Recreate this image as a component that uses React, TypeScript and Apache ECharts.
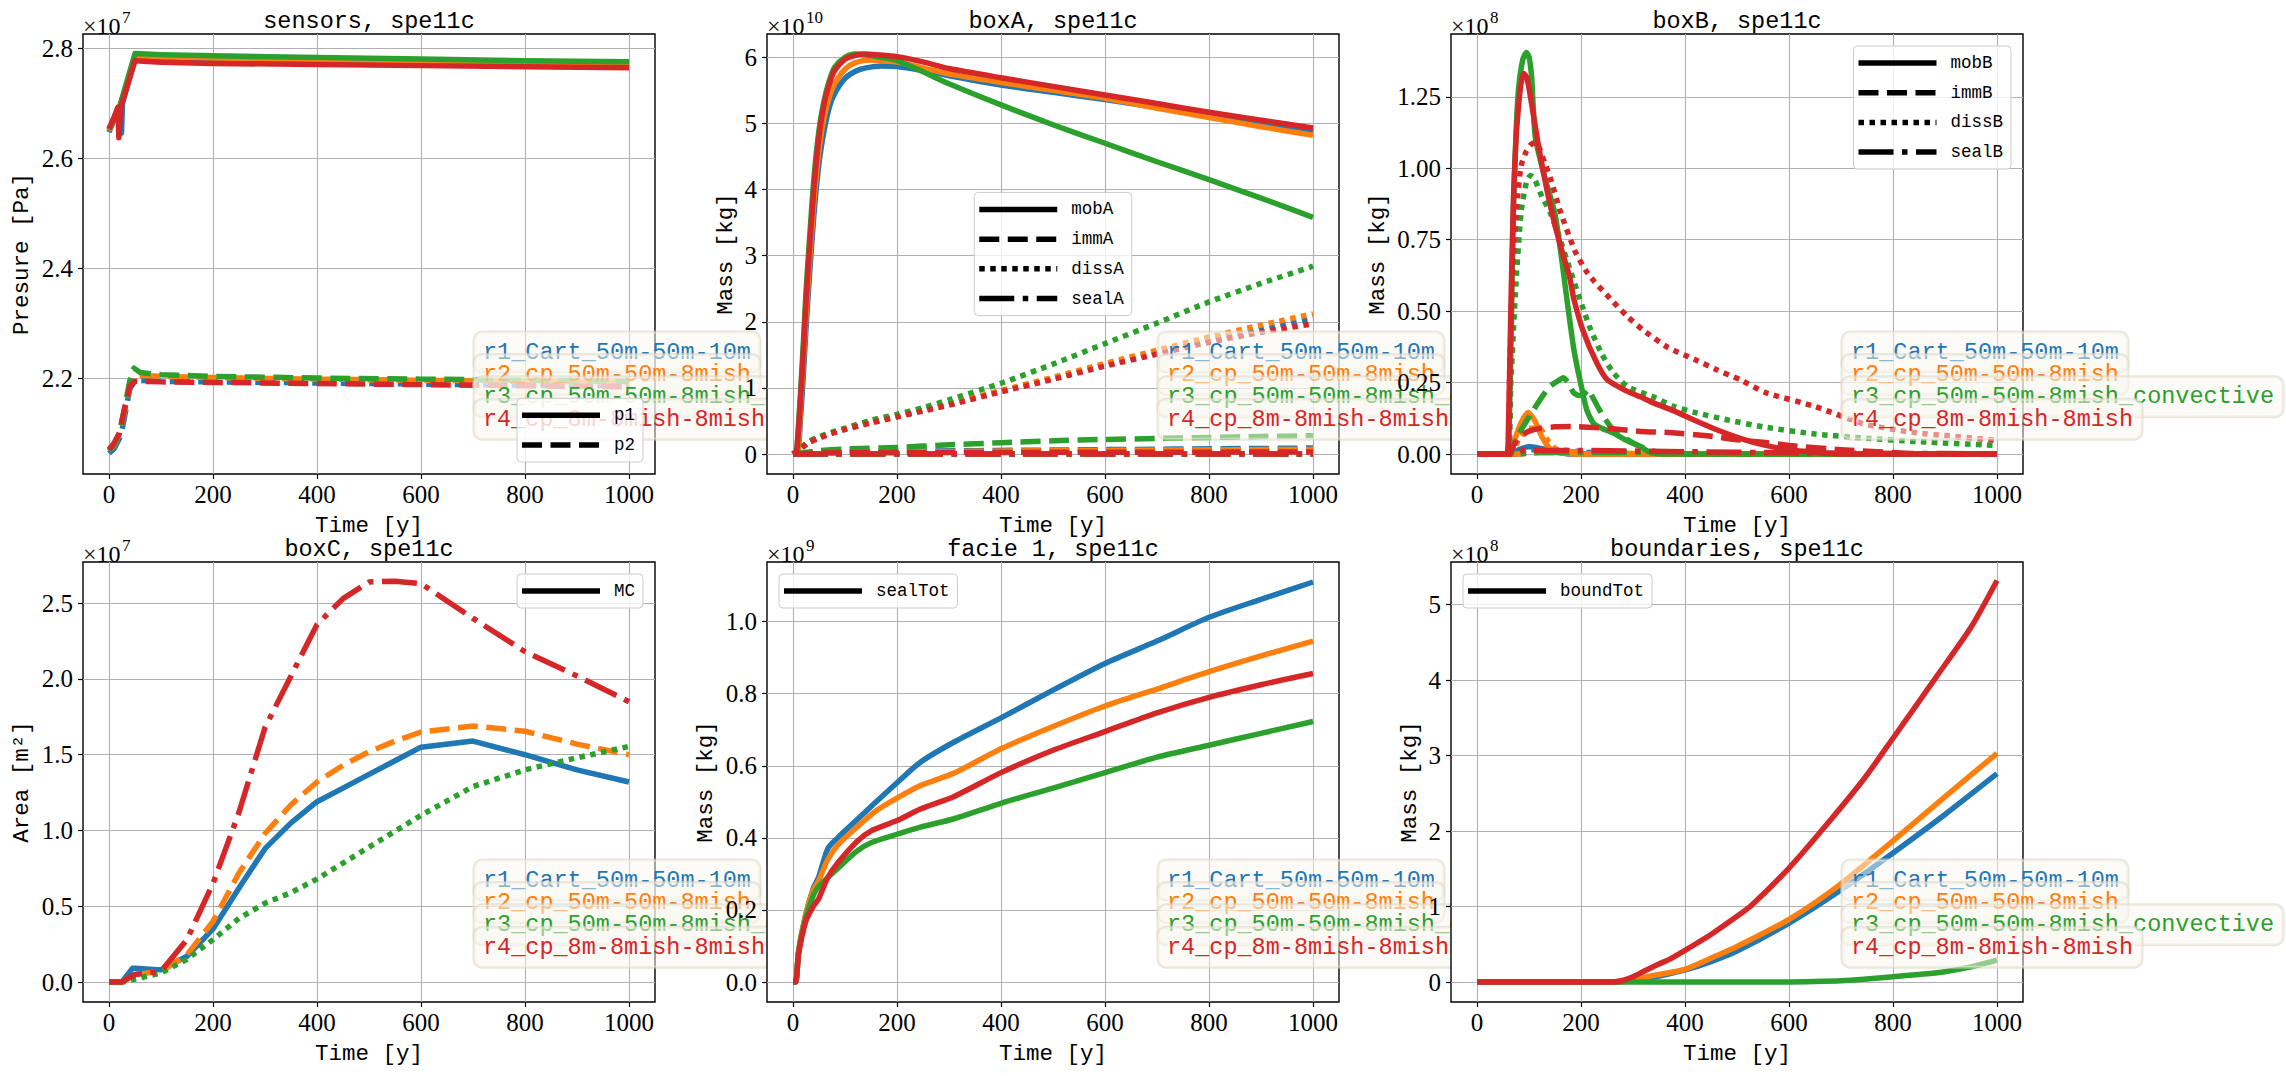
import React, { useEffect, useRef } from "react";
import * as echarts from "echarts";

type Pt = [number, number];
type Sty = "solid" | "dashed" | "dotted" | "dashdot";

// ---------- runs ----------
const RUN_NAMES = [
  "r1_Cart_50m-50m-10m",
  "r2_cp_50m-50m-8mish",
  "r3_cp_50m-50m-8mish_convective",
  "r4_cp_8m-8mish-8mish",
];
const RUN_COLORS = ["#1f77b4", "#ff7f0e", "#2ca02c", "#d62728"];
const X_TICKS = [0, 200, 400, 600, 800, 1000];

// ---------- sensors, spe11c (x1e7 Pa) ----------
const SENSORS_TICKS = [2.2, 2.4, 2.6, 2.8];
const p1_r1: Pt[] = [[0, 2.647], [10, 2.670], [22, 2.696], [24, 2.645], [26, 2.700], [50, 2.781], [100, 2.779], [200, 2.777], [400, 2.774], [600, 2.772], [800, 2.770], [1000, 2.768]];
const p1_r2: Pt[] = [[0, 2.650], [10, 2.671], [20, 2.690], [50, 2.786], [100, 2.784], [200, 2.782], [400, 2.779], [600, 2.777], [800, 2.774], [1000, 2.772]];
const p1_r3: Pt[] = [[0, 2.652], [10, 2.672], [20, 2.692], [50, 2.790], [100, 2.788], [200, 2.786], [400, 2.783], [600, 2.780], [800, 2.777], [1000, 2.775]];
const p1_r4: Pt[] = [[0, 2.653], [10, 2.675], [17, 2.692], [19, 2.637], [22, 2.690], [50, 2.777], [100, 2.774], [200, 2.772], [400, 2.770], [600, 2.768], [800, 2.766], [1000, 2.764]];
const p2_r1: Pt[] = [[0, 2.063], [10, 2.072], [20, 2.090], [25, 2.105], [30, 2.130], [40, 2.180], [50, 2.196], [100, 2.194], [200, 2.193], [400, 2.191], [600, 2.189], [800, 2.187], [1000, 2.186]];
const p2_r2: Pt[] = [[0, 2.068], [10, 2.078], [20, 2.098], [30, 2.140], [40, 2.185], [50, 2.205], [100, 2.203], [200, 2.201], [400, 2.198], [600, 2.196], [800, 2.194], [1000, 2.192]];
const p2_r3: Pt[] = [[0, 2.068], [10, 2.080], [20, 2.100], [30, 2.145], [40, 2.195], [48, 2.218], [60, 2.210], [100, 2.206], [200, 2.203], [400, 2.200], [600, 2.198], [800, 2.196], [1000, 2.194]];
const p2_r4: Pt[] = [[0, 2.070], [10, 2.082], [20, 2.100], [30, 2.145], [40, 2.185], [50, 2.194], [100, 2.193], [200, 2.192], [400, 2.190], [600, 2.188], [800, 2.186], [1000, 2.184]];

// ---------- boxA, spe11c (x1e10 kg) ----------
const BOXA_TICKS = [0, 1, 2, 3, 4, 5, 6];
const mobA_r1: Pt[] = [[0, 0], [5, 0], [10, 0.05], [15, 0.6], [20, 1.2], [25, 1.9], [30, 2.5], [40, 3.6], [50, 4.4], [60, 4.9], [70, 5.25], [80, 5.45], [100, 5.68], [120, 5.79], [140, 5.84], [170, 5.87], [200, 5.86], [250, 5.80], [300, 5.72], [400, 5.58], [500, 5.47], [600, 5.36], [700, 5.24], [800, 5.11], [900, 4.99], [1000, 4.88]];
const mobA_r2: Pt[] = [[0, 0], [5, 0], [10, 0.08], [15, 0.8], [20, 1.4], [25, 2.1], [30, 2.7], [40, 3.8], [50, 4.6], [60, 5.1], [70, 5.4], [80, 5.6], [100, 5.82], [120, 5.92], [150, 5.96], [200, 5.93], [250, 5.84], [300, 5.75], [400, 5.62], [500, 5.50], [600, 5.38], [700, 5.23], [800, 5.09], [900, 4.95], [1000, 4.82]];
const mobA_r3: Pt[] = [[0, 0], [5, 0], [8, 0.15], [15, 1.0], [20, 1.7], [25, 2.45], [30, 3.05], [40, 4.15], [50, 4.9], [60, 5.35], [70, 5.65], [80, 5.85], [100, 6.0], [120, 6.05], [140, 6.04], [160, 6.01], [200, 5.95], [250, 5.78], [300, 5.60], [400, 5.28], [500, 4.98], [600, 4.70], [700, 4.42], [800, 4.15], [900, 3.87], [1000, 3.58]];
const mobA_r4: Pt[] = [[0, 0], [5, 0], [8, 0.1], [15, 0.9], [20, 1.55], [25, 2.3], [30, 2.9], [40, 4.0], [50, 4.8], [60, 5.3], [70, 5.6], [80, 5.8], [100, 5.97], [120, 6.03], [140, 6.05], [160, 6.04], [200, 6.01], [250, 5.93], [300, 5.83], [400, 5.69], [500, 5.56], [600, 5.43], [700, 5.30], [800, 5.17], [900, 5.05], [1000, 4.93]];
const immA_r1: Pt[] = [[0, 0], [50, 0.02], [200, 0.04], [500, 0.06], [1000, 0.09]];
const immA_r2: Pt[] = [[0, 0], [50, 0.02], [200, 0.03], [500, 0.05], [1000, 0.07]];
const immA_r3: Pt[] = [[0, 0], [20, 0.02], [50, 0.05], [100, 0.075], [200, 0.10], [300, 0.14], [400, 0.17], [500, 0.20], [600, 0.22], [700, 0.235], [800, 0.25], [900, 0.265], [1000, 0.276]];
const immA_r4: Pt[] = [[0, 0], [50, 0.015], [200, 0.02], [500, 0.025], [1000, 0.03]];
const dissA_r1: Pt[] = [[0, 0], [10, 0.06], [20, 0.12], [30, 0.18], [50, 0.25], [75, 0.32], [100, 0.38], [150, 0.48], [200, 0.57], [250, 0.66], [300, 0.75], [400, 0.95], [500, 1.14], [600, 1.35], [700, 1.54], [800, 1.73], [900, 1.89], [1000, 2.05]];
const dissA_r2: Pt[] = [[0, 0], [10, 0.06], [20, 0.12], [30, 0.18], [50, 0.25], [75, 0.32], [100, 0.38], [150, 0.48], [200, 0.57], [250, 0.66], [300, 0.76], [400, 0.96], [500, 1.16], [600, 1.37], [700, 1.57], [800, 1.77], [900, 1.95], [1000, 2.12]];
const dissA_r3: Pt[] = [[0, 0], [10, 0.06], [20, 0.13], [30, 0.19], [50, 0.26], [75, 0.33], [100, 0.39], [150, 0.51], [200, 0.60], [250, 0.70], [300, 0.82], [400, 1.07], [500, 1.36], [600, 1.67], [700, 1.98], [800, 2.30], [900, 2.58], [1000, 2.84]];
const dissA_r4: Pt[] = [[0, 0], [10, 0.05], [20, 0.11], [30, 0.17], [50, 0.24], [75, 0.31], [100, 0.37], [150, 0.47], [200, 0.56], [250, 0.65], [300, 0.74], [400, 0.94], [500, 1.13], [600, 1.33], [700, 1.51], [800, 1.69], [900, 1.84], [1000, 1.97]];
const sealA_r1: Pt[] = [[0, 0], [500, 0], [1000, 0]];
const sealA_r2: Pt[] = [[0, 0], [500, 0], [1000, 0]];
const sealA_r3: Pt[] = [[0, 0], [500, 0], [1000, 0]];
const sealA_r4: Pt[] = [[0, 0], [500, 0], [1000, 0]];

// ---------- boxB, spe11c (x1e8 kg) ----------
const BOXB_TICKS = [0, 0.25, 0.5, 0.75, 1.0, 1.25];
const mobB_r1: Pt[] = [[0, 0], [65, 0], [80, 0.015], [100, 0.025], [120, 0.02], [150, 0.008], [180, 0], [1000, 0]];
const immB_r1: Pt[] = [[0, 0], [80, 0], [120, 0.005], [200, 0.005], [300, 0], [1000, 0]];
const dissB_r1: Pt[] = [[0, 0], [70, 0], [100, 0.015], [150, 0.015], [220, 0.005], [300, 0], [1000, 0]];
const sealB_r1: Pt[] = [[0, 0], [80, 0], [100, 0.008], [200, 0.008], [330, 0.004], [400, 0], [1000, 0]];
const mobB_r2: Pt[] = [[0, 0], [60, 0], [70, 0.04], [85, 0.11], [98, 0.145], [110, 0.12], [125, 0.06], [140, 0.02], [160, 0.005], [200, 0], [1000, 0]];
const immB_r2: Pt[] = [[0, 0], [80, 0], [130, 0.01], [250, 0.005], [350, 0], [1000, 0]];
const dissB_r2: Pt[] = [[0, 0], [65, 0], [80, 0.05], [100, 0.09], [120, 0.09], [135, 0.05], [150, 0.02], [170, 0.005], [200, 0], [1000, 0]];
const sealB_r2: Pt[] = [[0, 0], [75, 0], [90, 0.008], [200, 0.008], [330, 0.006], [360, 0], [1000, 0]];
const mobB_r3: Pt[] = [[0, 0], [58, 0], [62, 0.1], [66, 0.45], [70, 0.85], [75, 1.12], [80, 1.28], [88, 1.38], [95, 1.405], [100, 1.39], [105, 1.32], [112, 1.11], [130, 0.97], [150, 0.84], [163, 0.68], [173, 0.54], [185, 0.38], [192, 0.31], [205, 0.2], [211, 0.155], [224, 0.108], [240, 0.09], [262, 0.073], [290, 0.045], [314, 0.026], [330, 0.008], [350, 0], [1000, 0]];
const immB_r3: Pt[] = [[0, 0], [65, 0], [70, 0.03], [77, 0.061], [90, 0.1], [109, 0.155], [125, 0.2], [141, 0.238], [155, 0.255], [166, 0.267], [175, 0.25], [186, 0.214], [196, 0.205], [205, 0.208], [214, 0.226], [222, 0.2], [240, 0.14], [262, 0.085], [290, 0.05], [314, 0.026], [340, 0.01], [370, 0.002], [400, 0], [1000, 0]];
const dissB_r3: Pt[] = [[0, 0], [58, 0], [65, 0.25], [75, 0.6], [85, 0.85], [95, 0.95], [103, 0.975], [110, 0.965], [125, 0.9], [141, 0.845], [160, 0.75], [178, 0.65], [200, 0.53], [218, 0.438], [240, 0.35], [262, 0.285], [290, 0.235], [339, 0.2], [378, 0.167], [420, 0.145], [480, 0.12], [550, 0.095], [650, 0.07], [750, 0.055], [850, 0.043], [1000, 0.03]];
const sealB_r3: Pt[] = [[0, 0], [80, 0], [100, 0.005], [300, 0.005], [500, 0.002], [700, 0], [1000, 0]];
const mobB_r4: Pt[] = [[0, 0], [57, 0], [60, 0.05], [65, 0.5], [70, 0.89], [75, 1.1], [80, 1.22], [85, 1.3], [90, 1.332], [95, 1.32], [100, 1.28], [110, 1.17], [120, 1.06], [135, 0.92], [150, 0.80], [165, 0.70], [178, 0.62], [186, 0.544], [205, 0.426], [230, 0.32], [250, 0.261], [288, 0.22], [314, 0.2], [339, 0.179], [380, 0.15], [416, 0.12], [461, 0.085], [506, 0.055], [555, 0.03], [600, 0.015], [650, 0.006], [700, 0], [1000, 0]];
const immB_r4: Pt[] = [[0, 0], [62, 0], [70, 0.03], [83, 0.061], [100, 0.08], [122, 0.09], [150, 0.095], [186, 0.096], [250, 0.09], [314, 0.079], [370, 0.075], [442, 0.064], [500, 0.05], [555, 0.04], [600, 0.03], [700, 0.015], [800, 0.005], [850, 0], [1000, 0]];
const dissB_r4: Pt[] = [[0, 0], [58, 0], [63, 0.3], [70, 0.7], [78, 0.9], [85, 1.01], [95, 1.06], [105, 1.085], [112, 1.09], [120, 1.07], [130, 1.02], [141, 0.966], [160, 0.85], [188, 0.712], [210, 0.64], [226, 0.603], [256, 0.544], [290, 0.48], [320, 0.433], [367, 0.373], [420, 0.33], [461, 0.295], [506, 0.26], [555, 0.215], [649, 0.167], [743, 0.106], [837, 0.076], [1000, 0.048]];
const sealB_r4: Pt[] = [[0, 0], [70, 0], [90, 0.012], [200, 0.012], [400, 0.008], [600, 0.004], [800, 0.002], [1000, 0.001]];

// ---------- boxC, spe11c (x1e7 m2) ----------
const BOXC_TICKS = [0, 0.5, 1.0, 1.5, 2.0, 2.5];
const mc_r1: Pt[] = [[0, 0], [25, 0], [45, 0.09], [50, 0.09], [100, 0.08], [150, 0.17], [200, 0.35], [250, 0.62], [300, 0.88], [350, 1.05], [400, 1.19], [450, 1.28], [500, 1.37], [550, 1.46], [600, 1.55], [700, 1.59], [800, 1.50], [900, 1.40], [1000, 1.32]];
const mc_r2: Pt[] = [[0, 0], [25, 0], [50, 0.05], [100, 0.07], [150, 0.18], [200, 0.40], [250, 0.72], [300, 0.98], [350, 1.17], [400, 1.32], [450, 1.43], [500, 1.52], [550, 1.59], [600, 1.65], [700, 1.69], [800, 1.655], [900, 1.57], [1000, 1.50]];
const mc_r3: Pt[] = [[0, 0], [25, 0], [50, 0.02], [100, 0.06], [150, 0.15], [200, 0.28], [250, 0.42], [300, 0.52], [350, 0.59], [400, 0.68], [500, 0.89], [600, 1.10], [700, 1.29], [800, 1.40], [900, 1.48], [1000, 1.555]];
const mc_r4: Pt[] = [[0, 0], [25, 0], [50, 0.05], [100, 0.07], [150, 0.28], [200, 0.65], [250, 1.12], [300, 1.68], [350, 2.02], [400, 2.36], [450, 2.53], [500, 2.64], [550, 2.645], [600, 2.63], [700, 2.40], [800, 2.18], [900, 2.02], [1000, 1.85]];

// ---------- facie 1, spe11c (x1e9 kg) ----------
const FACIE_TICKS = [0, 0.2, 0.4, 0.6, 0.8, 1.0];
const seal_r1: Pt[] = [[0, 0], [5, 0], [11, 0.088], [25, 0.19], [39, 0.26], [49, 0.29], [67, 0.37], [86, 0.40], [123, 0.45], [160, 0.50], [200, 0.553], [245, 0.61], [310, 0.666], [400, 0.733], [500, 0.81], [600, 0.884], [700, 0.946], [800, 1.012], [900, 1.062], [1000, 1.11]];
const seal_r2: Pt[] = [[0, 0], [5, 0], [11, 0.088], [25, 0.19], [39, 0.255], [49, 0.28], [67, 0.34], [86, 0.38], [123, 0.43], [160, 0.475], [200, 0.51], [245, 0.545], [310, 0.58], [400, 0.647], [500, 0.709], [600, 0.766], [700, 0.813], [800, 0.861], [900, 0.905], [1000, 0.946]];
const seal_r3: Pt[] = [[0, 0], [5, 0], [11, 0.085], [25, 0.18], [39, 0.24], [49, 0.265], [67, 0.29], [86, 0.315], [123, 0.363], [151, 0.387], [200, 0.41], [245, 0.43], [310, 0.453], [400, 0.496], [500, 0.538], [600, 0.581], [700, 0.624], [800, 0.657], [900, 0.69], [1000, 0.723]];
const seal_r4: Pt[] = [[0, 0], [5, 0], [11, 0.08], [25, 0.17], [39, 0.21], [49, 0.23], [55, 0.25], [67, 0.29], [86, 0.33], [123, 0.39], [151, 0.42], [200, 0.448], [245, 0.48], [310, 0.515], [400, 0.581], [500, 0.643], [600, 0.695], [700, 0.747], [800, 0.79], [900, 0.825], [1000, 0.856]];

// ---------- boundaries, spe11c (x1e8 kg) ----------
const BOUND_TICKS = [0, 1, 2, 3, 4, 5];
const bound_r1: Pt[] = [[0, 0], [260, 0], [300, 0.02], [350, 0.08], [401, 0.16], [450, 0.27], [500, 0.41], [600, 0.78], [700, 1.22], [800, 1.71], [900, 2.22], [1000, 2.76]];
const bound_r2: Pt[] = [[0, 0], [250, 0], [280, 0.01], [319, 0.06], [350, 0.1], [401, 0.17], [461, 0.35], [500, 0.47], [600, 0.83], [696, 1.28], [800, 1.87], [894, 2.42], [1000, 3.03]];
const bound_r3: Pt[] = [[0, 0], [600, 0], [650, 0.005], [700, 0.015], [744, 0.036], [800, 0.07], [850, 0.1], [894, 0.13], [950, 0.2], [1000, 0.29]];
const bound_r4: Pt[] = [[0, 0], [260, 0], [280, 0.02], [300, 0.07], [320, 0.14], [350, 0.24], [367, 0.29], [400, 0.42], [450, 0.63], [500, 0.87], [527, 1.01], [600, 1.51], [668, 2.05], [744, 2.69], [800, 3.23], [884, 4.05], [950, 4.7], [1000, 5.32]];

// ---------- styles / layout ----------
const MONO = '"Liberation Mono", "DejaVu Sans Mono", monospace';
const SERIF = '"Liberation Serif", "DejaVu Serif", serif';
const LINE_W = 5.5;
const DASH: Record<Sty, any> = {
  solid: "solid",
  dashed: [20, 8.5],
  dotted: [5.5, 5.5],
  dashdot: [35, 8.5, 5.5, 8.5],
};
const GRID_L = [83, 767, 1451];
const GRID_T = [34, 562];
const GRID_W = 572;
const GRID_H = 440;

interface SeriesDef { run: number; sty: Sty; data: Pt[] }
interface PanelDef {
  title: string; exp: string; yName: string; yGap: number;
  yMin: number; yMax: number; yTicks: number[]; dec: number; smooth: number | boolean;
  series: SeriesDef[];
  legendLoc: "lr" | "ur" | "ul" | "c";
  legendItems: [string, Sty][];
}

const four = (a: Pt[][][], sty: Sty[]): SeriesDef[] => {
  const out: SeriesDef[] = [];
  for (let r = 0; r < 4; r++) {
    a.forEach((arr, k) => out.push({ run: r, sty: sty[k], data: arr[r] }));
  }
  return out;
};

const PANELS: PanelDef[] = [
  {
    title: "sensors, spe11c", exp: "7", yName: "Presure [Pa]", yGap: 50,
    yMin: 2.0255, yMax: 2.8255, yTicks: SENSORS_TICKS, dec: 1, smooth: false,
    series: four([[p1_r1, p1_r2, p1_r3, p1_r4], [p2_r1, p2_r2, p2_r3, p2_r4]], ["solid", "dashed"]),
    legendLoc: "lr", legendItems: [["p1", "solid"], ["p2", "dashed"]],
  },
  {
    title: "boxA, spe11c", exp: "10", yName: "Mass [kg]", yGap: 30,
    yMin: -0.3025, yMax: 6.3525, yTicks: BOXA_TICKS, dec: 0, smooth: 0.25,
    series: four([
      [mobA_r1, mobA_r2, mobA_r3, mobA_r4],
      [immA_r1, immA_r2, immA_r3, immA_r4],
      [dissA_r1, dissA_r2, dissA_r3, dissA_r4],
      [sealA_r1, sealA_r2, sealA_r3, sealA_r4],
    ], ["solid", "dashed", "dotted", "dashdot"]),
    legendLoc: "c", legendItems: [["mobA", "solid"], ["immA", "dashed"], ["dissA", "dotted"], ["sealA", "dashdot"]],
  },
  {
    title: "boxB, spe11c", exp: "8", yName: "Mass [kg]", yGap: 62,
    yMin: -0.07, yMax: 1.47, yTicks: BOXB_TICKS, dec: 2, smooth: 0.2,
    series: four([
      [mobB_r1, mobB_r2, mobB_r3, mobB_r4],
      [immB_r1, immB_r2, immB_r3, immB_r4],
      [dissB_r1, dissB_r2, dissB_r3, dissB_r4],
      [sealB_r1, sealB_r2, sealB_r3, sealB_r4],
    ], ["solid", "dashed", "dotted", "dashdot"]),
    legendLoc: "ur", legendItems: [["mobB", "solid"], ["immB", "dashed"], ["dissB", "dotted"], ["sealB", "dashdot"]],
  },
  {
    title: "boxC, spe11c", exp: "7", yName: "Area [m²]", yGap: 50,
    yMin: -0.132, yMax: 2.772, yTicks: BOXC_TICKS, dec: 1, smooth: false,
    series: [
      { run: 0, sty: "solid", data: mc_r1 },
      { run: 1, sty: "dashed", data: mc_r2 },
      { run: 2, sty: "dotted", data: mc_r3 },
      { run: 3, sty: "dashdot", data: mc_r4 },
    ],
    legendLoc: "ur", legendItems: [["MC", "solid"]],
  },
  {
    title: "facie 1, spe11c", exp: "9", yName: "Mass [kg]", yGap: 50,
    yMin: -0.0555, yMax: 1.1655, yTicks: FACIE_TICKS, dec: 1, smooth: 0.25,
    series: four([[seal_r1, seal_r2, seal_r3, seal_r4]], ["solid"]),
    legendLoc: "ul", legendItems: [["sealTot", "solid"]],
  },
  {
    title: "boundaries, spe11c", exp: "8", yName: "Mass [kg]", yGap: 30,
    yMin: -0.265, yMax: 5.565, yTicks: BOUND_TICKS, dec: 0, smooth: 0.25,
    series: four([[bound_r1, bound_r2, bound_r3, bound_r4]], ["solid"]),
    legendLoc: "ul", legendItems: [["boundTot", "solid"]],
  },
];

function buildOption() {
  const grid: any[] = [];
  const xAxis: any[] = [];
  const yAxis: any[] = [];
  const series: any[] = [];
  const elements: any[] = [];

  PANELS.forEach((p, i) => {
    const c = i % 3;
    const r = Math.floor(i / 3);
    const L = GRID_L[c];
    const T = GRID_T[r];
    const zb = 10 * c;

    grid.push({
      left: L, top: T, width: GRID_W, height: GRID_H, containLabel: false,
      show: true, backgroundColor: "#ffffff", borderColor: "#000000", borderWidth: 1.4, z: zb,
    });

    xAxis.push({
      type: "value", gridIndex: i, min: -50, max: 1050, z: zb + 1,
      name: "Time [y]", nameLocation: "middle", nameGap: 40,
      nameTextStyle: { fontFamily: MONO, fontSize: 22.5, color: "#000" },
      axisLine: { show: false, onZero: false },
      axisTick: { show: true, inside: false, length: 5, lineStyle: { color: "#000", width: 1.2 }, customValues: X_TICKS },
      axisLabel: { customValues: X_TICKS, fontFamily: SERIF, fontSize: 25, color: "#000", margin: 8, formatter: (v: number) => String(v) },
      splitLine: { show: true, lineStyle: { color: "#b0b0b0", width: 1.1 } },
    });

    yAxis.push({
      type: "value", gridIndex: i, min: p.yMin, max: p.yMax, z: zb + 1,
      name: p.yName, nameLocation: "middle", nameGap: p.yGap,
      nameTextStyle: { fontFamily: MONO, fontSize: 22.5, color: "#000" },
      axisLine: { show: false, onZero: false },
      axisTick: { show: true, inside: false, length: 5, lineStyle: { color: "#000", width: 1.2 }, customValues: p.yTicks },
      axisLabel: { customValues: p.yTicks, fontFamily: SERIF, fontSize: 25, color: "#000", margin: 10, formatter: (v: number) => v.toFixed(p.dec) },
      splitLine: { show: true, lineStyle: { color: "#b0b0b0", width: 1.1 } },
    });

    p.series.forEach((s) => {
      series.push({
        type: "line", xAxisIndex: i, yAxisIndex: i, data: s.data,
        showSymbol: false, symbol: "none", smooth: p.smooth,
        z: zb + 2, silent: true, emphasis: { disabled: true },
        lineStyle: { color: RUN_COLORS[s.run], width: LINE_W, type: DASH[s.sty], cap: "butt", join: "round" },
      });
    });

    // title
    elements.push({
      type: "text", x: L + GRID_W / 2, y: T - 13, z: 60,
      style: { text: p.title, font: `23.5px ${MONO}`, fill: "#000", align: "center", verticalAlign: "middle" },
    });
    // offset text x10^n
    elements.push({
      type: "text", x: L, y: T - 8, z: 60,
      style: { text: "×10", font: `24px ${SERIF}`, fill: "#000", align: "left", verticalAlign: "middle" },
    });
    elements.push({
      type: "text", x: L + 39, y: T - 17, z: 60,
      style: { text: p.exp, font: `17px ${SERIF}`, fill: "#000", align: "left", verticalAlign: "middle" },
    });

    // run colour legend
    RUN_NAMES.forEach((name, k) => {
      elements.push({
        type: "text", x: L + 391, y: T + 318 + 22.4 * k, z: zb + 3, z2: k,
        style: {
          text: name, font: `23.5px ${MONO}`, fill: RUN_COLORS[k], align: "left", verticalAlign: "middle",
          backgroundColor: "rgba(250,247,240,0.5)", borderColor: "rgba(222,214,198,0.6)", borderWidth: 1.5,
          borderRadius: 8, padding: [8, 9],
        },
      });
    });

    // linestyle legend
    const n = p.legendItems.length;
    const maxChars = Math.max(...p.legendItems.map((it) => it[0].length));
    const bw = 5 + 78 + 14 + maxChars * 10.5 + 8;
    const bh = 34 + (n - 1) * 29.7;
    let bx = 0, by = 0;
    if (p.legendLoc === "lr") { bx = L + GRID_W - 12 - bw; by = T + GRID_H - 12 - bh; }
    else if (p.legendLoc === "ur") { bx = L + GRID_W - 12 - bw; by = T + 12; }
    else if (p.legendLoc === "ul") { bx = L + 12; by = T + 12; }
    else { bx = L + GRID_W / 2 - bw / 2; by = T + GRID_H / 2 - bh / 2; }
    elements.push({
      type: "rect", z: zb + 4, z2: 0,
      shape: { x: bx, y: by, width: bw, height: bh, r: 4 },
      style: { fill: "rgba(255,255,255,0.8)", stroke: "#cccccc", lineWidth: 1 },
    });
    p.legendItems.forEach(([label, sty], k) => {
      const yy = by + 17 + 29.7 * k;
      elements.push({
        type: "line", z: zb + 4, z2: 1,
        shape: { x1: bx + 5, y1: yy, x2: bx + 83, y2: yy },
        style: { stroke: "#000", lineWidth: LINE_W, lineDash: sty === "solid" ? null : DASH[sty], lineCap: "butt" },
      });
      elements.push({
        type: "text", x: bx + 97, y: yy, z: zb + 4, z2: 2,
        style: { text: label, font: `17.5px ${MONO}`, fill: "#000", align: "left", verticalAlign: "middle" },
      });
    });
  });

  return {
    animation: false,
    backgroundColor: "#ffffff",
    grid, xAxis, yAxis, series,
    graphic: { elements },
  };
}

export default function App() {
  const ref = useRef<HTMLDivElement>(null);
  useEffect(() => {
    document.body.style.margin = "0";
    const chart = echarts.init(ref.current!, null, { renderer: "svg" });
    chart.setOption(buildOption() as any);
    return () => chart.dispose();
  }, []);
  return <div ref={ref} style={{ width: 2286, height: 1076 }} />;
}
